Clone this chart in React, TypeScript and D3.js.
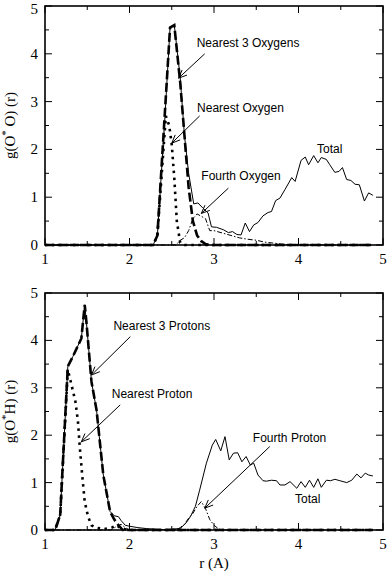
import React, { useEffect, useRef } from "react";
import * as d3 from "d3";

type Pt = [number, number];

// g(O*O)(r) panel
const ooTotal: Pt[] = [[1,0],[2.28,0],[2.33,0.2],[2.42,2.7],[2.48,4.55],[2.53,4.6],[2.6,3.5],[2.65,2.3],[2.7,1.5],[2.76,0.86],[2.81,0.88],[2.87,0.77],[2.93,0.67],[2.97,0.38],[3.03,0.37],[3.11,0.32],[3.17,0.26],[3.22,0.28],[3.27,0.22],[3.32,0.21],[3.37,0.46],[3.42,0.28],[3.47,0.42],[3.52,0.47],[3.58,0.61],[3.64,0.68],[3.68,0.7],[3.73,0.93],[3.78,0.98],[3.84,1.16],[3.92,1.41],[3.96,1.33],[4.03,1.77],[4.08,1.84],[4.12,1.68],[4.18,1.87],[4.23,1.72],[4.27,1.83],[4.33,1.79],[4.37,1.68],[4.43,1.52],[4.48,1.54],[4.52,1.62],[4.57,1.37],[4.62,1.35],[4.67,1.27],[4.72,1.26],[4.78,0.92],[4.83,1.09],[4.88,1.04]];
const ooNearest3: Pt[] = [[1,0],[2.28,0],[2.33,0.2],[2.48,4.55],[2.53,4.6],[2.6,3.4],[2.65,2.3],[2.7,1.2],[2.75,0.5],[2.8,0.2],[2.85,0.08],[2.9,0.02],[2.95,0],[4.88,0]];
const ooNearest1: Pt[] = [[1,0],[2.28,0],[2.33,0.2],[2.43,2.7],[2.47,2.5],[2.5,2.1],[2.53,1.4],[2.56,0.5],[2.6,0.05],[2.65,0],[4.88,0]];
const ooFourth: Pt[] = [[1,0],[2.55,0],[2.6,0.1],[2.65,0.15],[2.7,0.3],[2.75,0.55],[2.8,0.65],[2.85,0.6],[2.9,0.55],[2.95,0.3],[3.0,0.3],[3.1,0.25],[3.2,0.2],[3.3,0.15],[3.4,0.12],[3.5,0.1],[3.6,0.06],[3.7,0.04],[3.8,0.02],[3.9,0],[4.88,0]];

// g(O*H)(r) panel
const ohTotal: Pt[] = [[1,0],[1.12,0],[1.18,0.32],[1.27,3.45],[1.33,3.66],[1.43,4.04],[1.47,4.75],[1.49,4.39],[1.55,3.13],[1.61,2.53],[1.69,1.16],[1.77,0.39],[1.82,0.3],[1.87,0.28],[1.9,0.2],[1.95,0.1],[2.0,0.08],[2.1,0.05],[2.2,0.03],[2.3,0.02],[2.4,0.01],[2.5,0.02],[2.6,0.03],[2.67,0.15],[2.72,0.28],[2.78,0.5],[2.83,0.84],[2.91,1.41],[2.98,1.79],[3.02,1.91],[3.08,1.67],[3.13,1.97],[3.18,1.48],[3.23,1.62],[3.28,1.63],[3.33,1.44],[3.38,1.55],[3.43,1.37],[3.47,1.41],[3.52,1.16],[3.58,1.04],[3.62,1.03],[3.68,1.05],[3.74,1.04],[3.78,0.95],[3.84,0.95],[3.9,1.02],[3.98,0.88],[4.03,1.02],[4.08,0.9],[4.13,1.05],[4.18,0.9],[4.23,1.08],[4.27,0.9],[4.33,1.05],[4.38,1.04],[4.43,1.07],[4.49,1.04],[4.57,1.0],[4.63,1.05],[4.69,1.18],[4.74,1.1],[4.79,1.2],[4.83,1.16],[4.88,1.14]];
const ohNearest3: Pt[] = [[1,0],[1.12,0],[1.18,0.32],[1.27,3.45],[1.33,3.66],[1.43,4.04],[1.47,4.75],[1.49,4.39],[1.55,3.13],[1.61,2.53],[1.69,1.16],[1.77,0.39],[1.82,0.22],[1.87,0.1],[1.92,0],[4.88,0]];
const ohNearest1: Pt[] = [[1,0],[1.12,0],[1.18,0.32],[1.27,3.38],[1.31,3.09],[1.36,2.71],[1.39,2.29],[1.41,1.79],[1.44,1.16],[1.47,0.6],[1.51,0.28],[1.55,0.1],[1.6,0.05],[1.7,0.02],[1.8,0.06],[1.85,0.1],[1.9,0.03],[2.0,0],[4.88,0]];
const ohFourth: Pt[] = [[1,0],[1.78,0],[1.85,0.08],[1.9,0.12],[1.95,0.05],[2.0,0],[2.55,0],[2.6,0.05],[2.65,0.12],[2.7,0.25],[2.75,0.35],[2.8,0.5],[2.85,0.6],[2.9,0.45],[2.95,0.22],[3.0,0.1],[3.05,0.03],[3.1,0],[4.88,0]];

const xTicks = [1, 2, 3, 4, 5];
const yTicks = [0, 1, 2, 3, 4, 5];

// annotations: text position and arrow (from -> to), in data units
type Note = { text: string; at: Pt; from?: Pt; to?: Pt };
const ooNotes: Note[] = [
  { text: "Nearest 3 Oxygens", at: [2.795, 4.15], from: [2.89, 4.0], to: [2.58, 3.49] },
  { text: "Nearest Oxygen", at: [2.8, 2.79], from: [2.83, 2.7], to: [2.5, 2.13] },
  { text: "Fourth Oxygen", at: [2.85, 1.36], from: [3.17, 1.19], to: [2.85, 0.66] },
  { text: "Total", at: [4.22, 1.92] },
];
const ohNotes: Note[] = [
  { text: "Nearest 3 Protons", at: [1.81, 4.22], from: [2.01, 4.08], to: [1.55, 3.27] },
  { text: "Nearest Proton", at: [1.79, 2.78], from: [1.89, 2.64], to: [1.43, 1.86] },
  { text: "Fourth Proton", at: [3.46, 1.86], from: [3.66, 1.76], to: [2.89, 0.46] },
  { text: "Total", at: [3.96, 0.58] },
];

const serif = "Liberation Serif, Times New Roman, serif";
const sans = "Liberation Sans, Arial, sans-serif";

const App = () => {
  const ref = useRef<SVGSVGElement>(null);

  useEffect(() => {
    const svg = d3.select(ref.current);
    svg.selectAll("*").remove();

    const panel = (top: number, bottom: number, series: Pt[][], notes: Note[], second: string) => {
      const x = d3.scaleLinear().domain([1, 5]).range([45, 383]);
      const y = d3.scaleLinear().domain([0, 5]).range([bottom, top]);
      const g = svg.append("g");

      // curves
      const line = d3.line<Pt>().x(d => x(d[0])).y(d => y(d[1]));
      const styles = [
        { w: 1, dash: null },
        { w: 2.6, dash: "9,3.5" },
        { w: 2.6, dash: "2.5,4.5" },
        { w: 1, dash: "5,2,1.5,2" },
      ];
      series.forEach((s, i) => {
        g.append("path")
          .attr("d", line(s))
          .attr("fill", "none")
          .attr("stroke", "#000")
          .attr("stroke-width", styles[i].w)
          .attr("stroke-dasharray", styles[i].dash);
      });

      // frame
      g.append("rect")
        .attr("x", x(1)).attr("y", y(5))
        .attr("width", x(5) - x(1)).attr("height", y(0) - y(5))
        .attr("fill", "none").attr("stroke", "#000").attr("stroke-width", 1.6);

      // ticks, inward, on four sides
      d3.range(1, 5.01, 0.5).forEach(v => {
        const len = Number.isInteger(v) ? 7 : 4;
        g.append("line").attr("x1", x(v)).attr("x2", x(v)).attr("y1", y(0)).attr("y2", y(0) - len).attr("stroke", "#000");
        g.append("line").attr("x1", x(v)).attr("x2", x(v)).attr("y1", y(5)).attr("y2", y(5) + len).attr("stroke", "#000");
      });
      d3.range(0, 5.01, 0.5).forEach(v => {
        const len = Number.isInteger(v) ? 7 : 4;
        g.append("line").attr("y1", y(v)).attr("y2", y(v)).attr("x1", x(1)).attr("x2", x(1) + len).attr("stroke", "#000");
        g.append("line").attr("y1", y(v)).attr("y2", y(v)).attr("x1", x(5)).attr("x2", x(5) - len).attr("stroke", "#000");
      });

      // tick labels
      xTicks.forEach(v => {
        g.append("text").attr("x", x(v)).attr("y", y(0) + 19)
          .attr("text-anchor", "middle").attr("font-family", serif).attr("font-size", 15)
          .text(v);
      });
      yTicks.forEach(v => {
        g.append("text").attr("x", 38).attr("y", Math.max(y(v) + 5, 14))
          .attr("text-anchor", "end").attr("font-family", serif).attr("font-size", 15)
          .text(v);
      });

      // y title
      const cy = (y(0) + y(5)) / 2;
      const t = g.append("text")
        .attr("transform", `translate(15,${cy}) rotate(-90)`)
        .attr("text-anchor", "middle").attr("font-family", serif).attr("font-size", 15);
      t.append("tspan").text("g(O");
      t.append("tspan").attr("dy", -6).attr("font-size", 11).text("*");
      t.append("tspan").attr("dy", 6).text(`${second}) (r)`);

      // annotations
      notes.forEach(n => {
        g.append("text").attr("x", x(n.at[0])).attr("y", y(n.at[1]))
          .attr("font-family", sans).attr("font-size", 12).text(n.text);
        if (n.from && n.to) {
          const x1 = x(n.from[0]), y1 = y(n.from[1]), x2 = x(n.to[0]), y2 = y(n.to[1]);
          g.append("line").attr("x1", x1).attr("y1", y1).attr("x2", x2).attr("y2", y2)
            .attr("stroke", "#000").attr("stroke-width", 1);
          const a = Math.atan2(y1 - y2, x1 - x2);
          const hl = 9, spread = 0.4;
          const p1 = [x2 + hl * Math.cos(a + spread), y2 + hl * Math.sin(a + spread)];
          const p2 = [x2 + hl * Math.cos(a - spread), y2 + hl * Math.sin(a - spread)];
          g.append("path")
            .attr("d", `M${p1[0]},${p1[1]}L${x2},${y2}L${p2[0]},${p2[1]}`)
            .attr("fill", "none").attr("stroke", "#000").attr("stroke-width", 1);
        }
      });
      return x;
    };

    panel(6, 245, [ooTotal, ooNearest3, ooNearest1, ooFourth], ooNotes, " O");
    const x = panel(293, 530, [ohTotal, ohNearest3, ohNearest1, ohFourth], ohNotes, "H");

    svg.append("text").attr("x", x(3)).attr("y", 568)
      .attr("text-anchor", "middle").attr("font-family", serif).attr("font-size", 15)
      .text("r (A)");
  }, []);

  return (
    <div style={{ position: "absolute", left: 0, top: 0 }}>
      <svg ref={ref} width={388} height={572} style={{ display: "block", background: "#fff" }}></svg>
    </div>
  );
};

export default App;
